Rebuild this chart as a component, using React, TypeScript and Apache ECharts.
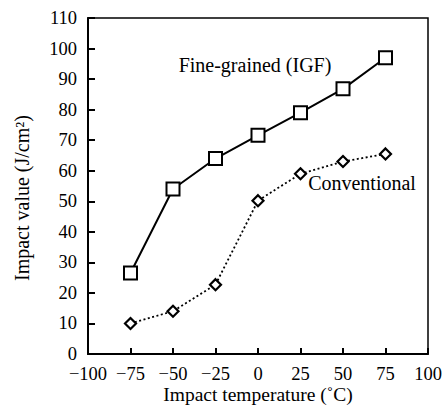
import React, { useEffect, useRef } from "react";
import * as echarts from "echarts";

const temperatures = [-75, -50, -25, 0, 25, 50, 75];
const igfValues = [26.5, 54, 64, 71.6, 79, 86.8, 97];
const conventionalValues = [10, 14, 22.7, 50.2, 59, 63, 65.5];
const xTicks = { min: -100, max: 100, interval: 25 };
const yTicks = { min: 0, max: 110, interval: 10 };

const FONT = "'Liberation Serif', 'Times New Roman', serif";
const FS = 18.5;

export default function App() {
  const ref = useRef<HTMLDivElement>(null);
  useEffect(() => {
    if (!ref.current) return;
    const chart = echarts.init(ref.current, undefined, { renderer: "svg" });
    const fmt = (v: number) => String(v).replace("-", "\u2212");
    chart.setOption({
      animation: false,
      backgroundColor: "#ffffff",
      textStyle: { fontFamily: FONT, color: "#000" },
      grid: {
        left: 88,
        right: 15,
        top: 18,
        bottom: 53,
        outerBoundsMode: "none",
        containLabel: false,
        show: true,
        borderColor: "#000",
        borderWidth: 1.5,
        backgroundColor: "transparent",
      },
      xAxis: {
        type: "value",
        min: xTicks.min,
        max: xTicks.max,
        interval: xTicks.interval,
        name: "Impact temperature (\u02DAC)",
        nameLocation: "middle",
        nameGap: 32,
        nameMoveOverlap: false,
        nameTextStyle: { fontFamily: FONT, fontSize: 19.5, lineHeight: 16, color: "#000" },
        axisLine: { show: true, onZero: false, lineStyle: { color: "#000", width: 2 } },
        axisTick: { show: true, inside: true, length: 6, lineStyle: { color: "#000", width: 2 } },
        axisLabel: { fontFamily: FONT, fontSize: FS, lineHeight: 16, color: "#000", margin: 12, formatter: fmt },
        splitLine: { show: false },
      },
      yAxis: {
        type: "value",
        min: yTicks.min,
        max: yTicks.max,
        interval: yTicks.interval,
        name: "Impact value (J/cm\u00B2)",
        nameLocation: "middle",
        nameGap: 56,
        nameTextStyle: { fontFamily: FONT, fontSize: 20, color: "#000", padding: [0, 24, 0, 0] },
        axisLine: { show: true, onZero: false, lineStyle: { color: "#000", width: 2 } },
        axisTick: { show: true, inside: true, length: 7, lineStyle: { color: "#000", width: 2 } },
        axisLabel: { fontFamily: FONT, fontSize: FS, lineHeight: 16, color: "#000", margin: 11 },
        splitLine: { show: false },
      },
      series: [
        {
          name: "Fine-grained (IGF)",
          type: "line",
          data: temperatures.map((t, i) => [t, igfValues[i]]),
          symbol: "rect",
          symbolSize: 13,
          showAllSymbol: true,
          lineStyle: { color: "#000", width: 2, type: "solid" },
          itemStyle: { color: "#fff", borderColor: "#000", borderWidth: 2 },
          z: 3,
        },
        {
          name: "Conventional",
          type: "line",
          data: temperatures.map((t, i) => [t, conventionalValues[i]]),
          symbol: "diamond",
          symbolSize: 11,
          showAllSymbol: true,
          lineStyle: { color: "#000", width: 1.8, type: [2, 2.5] },
          itemStyle: { color: "#fff", borderColor: "#000", borderWidth: 2.2 },
          z: 3,
        },
      ],
      graphic: [
        {
          type: "text",
          x: 255,
          y: 65,
          style: {
            text: "Fine-grained (IGF)",
            font: `20px ${FONT}`,
            fill: "#000",
            textAlign: "center",
            textVerticalAlign: "middle",
          },
        },
        {
          type: "text",
          x: 362,
          y: 183,
          style: {
            text: "Conventional",
            font: `20px ${FONT}`,
            fill: "#000",
            textAlign: "center",
            textVerticalAlign: "middle",
          },
        },
      ],
    });
    return () => chart.dispose();
  }, []);
  return <div ref={ref} style={{ width: 443, height: 407, position: "absolute", left: 0, top: 0 }} />;
}
